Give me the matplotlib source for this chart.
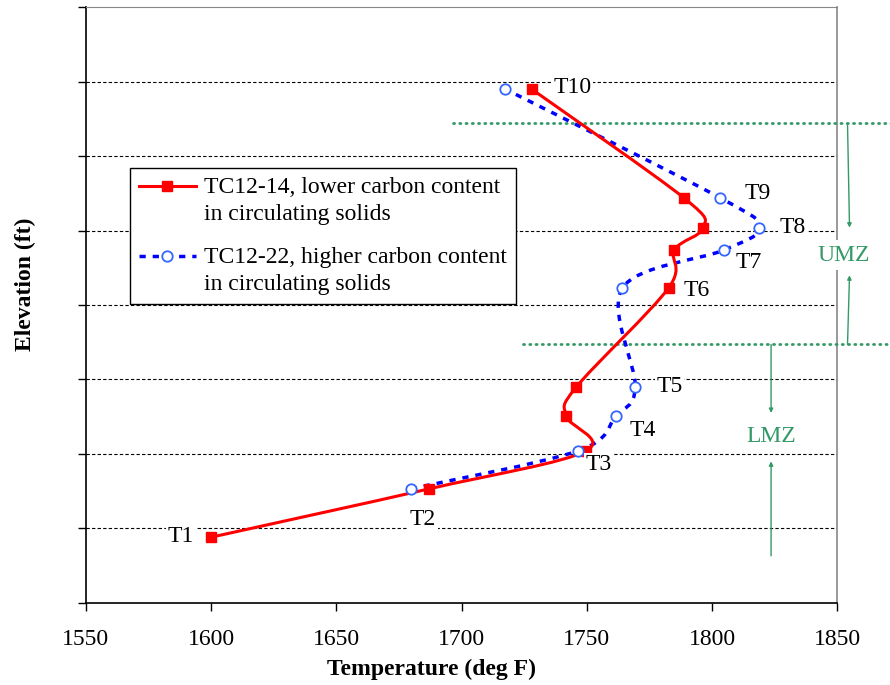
import matplotlib.pyplot as plt
import numpy as np
from matplotlib.path import Path
from matplotlib.patches import PathPatch
from matplotlib.lines import Line2D
from matplotlib.legend_handler import HandlerLine2D

plt.rcParams['font.family'] = ['Liberation Serif', 'DejaVu Serif']

# TC12-14 (lower carbon), thermocouples T1..T10
red_temp = [1600, 1687, 1749.6, 1741.7, 1745.8, 1782.6, 1784.9, 1796.5, 1788.7, 1728]
red_elev = [0.88, 1.53, 2.04, 2.51, 2.90, 4.23, 4.74, 5.04, 5.44, 6.90]

# TC12-22 (higher carbon), T2..T10
blue_temp = [1679.7, 1746.4, 1761.6, 1769.3, 1764.2, 1804.8, 1818.8, 1803.2, 1717.5]
blue_elev = [1.53, 2.04, 2.51, 2.90, 4.23, 4.74, 5.04, 5.44, 6.90]

labels = ['T1', 'T2', 'T3', 'T4', 'T5', 'T6', 'T7', 'T8', 'T9', 'T10']

# zone boundaries (elevation)
umz_top, lmz_top = 6.44, 3.47

FS = 17


def smooth_path(ax, xs, ys):
    # Excel-like smoothed line: Catmull-Rom rendered as cubic Bezier
    pts = ax.transData.transform(np.column_stack([xs, ys]))
    n = len(pts)
    verts = [pts[0]]
    codes = [Path.MOVETO]
    for i in range(n - 1):
        p0 = pts[max(i - 1, 0)]
        p1 = pts[i]
        p2 = pts[i + 1]
        p3 = pts[min(i + 2, n - 1)]
        c1 = p1 + (p2 - p0) / 6.0
        c2 = p2 - (p3 - p1) / 6.0
        verts += [c1, c2, p2]
        codes += [Path.CURVE4] * 3
    verts = ax.transData.inverted().transform(np.array(verts))
    return Path(verts, codes)


class FirstLineHandler(HandlerLine2D):
    # put the legend handle on the first line of a two-line label
    def create_artists(self, legend, orig_handle, xdescent, ydescent,
                       width, height, fontsize, trans):
        arts = super().create_artists(legend, orig_handle, xdescent, ydescent,
                                      width, height, fontsize, trans)
        for a in arts:
            a.set_ydata(np.asarray(a.get_ydata()) + 0.62 * fontsize)
        return arts


fig = plt.figure(figsize=(8.9, 6.85), dpi=100)
ax = fig.add_axes([0.0963, 0.1201, 0.8447, 0.8692])
ax.set_xlim(1550, 1850)
ax.set_ylim(0, 8)
ax.set_xticks(np.arange(1550, 1851, 50))
ax.set_yticks(np.arange(0, 9, 1))
ax.set_yticklabels([])
ax.tick_params(axis='both', direction='out', length=6, width=1, labelsize=FS, pad=13)
for yv in range(1, 8):
    ax.axhline(yv, color='black', lw=0.8, linestyle=(0, (3, 2)), zorder=1)

ax.spines['top'].set_color('#888888')
ax.spines['top'].set_linestyle((0, (2, 1)))
ax.spines['right'].set_color('#888888')
ax.spines['right'].set_linewidth(1.2)
ax.spines['left'].set_linewidth(1.2)
ax.spines['bottom'].set_linewidth(1.2)
ax.spines['right'].set_zorder(1)

fig.canvas.draw()

red_patch = PathPatch(smooth_path(ax, red_temp, red_elev), fill=False,
                      edgecolor='red', lw=2.2, zorder=4)
ax.add_patch(red_patch)
blue_patch = PathPatch(smooth_path(ax, blue_temp, blue_elev), fill=False,
                       edgecolor='blue', lw=2.5, linestyle=(0, (1.8, 2.0)), zorder=3)
ax.add_patch(blue_patch)
ax.plot(red_temp, red_elev, linestyle='none', marker='s', ms=6.5,
        color='red', zorder=5)
ax.plot(blue_temp, blue_elev, linestyle='none', marker='o', ms=7.5,
        mfc='white', mec='#3366FF', mew=1.3, zorder=5)

# thermocouple labels: anchor series/index and offset in pixels
anchors = [('r', 0), ('r', 1), ('r', 2), ('b', 2), ('b', 3),
           ('r', 5), ('b', 5), ('b', 6), ('b', 7), ('r', 9)]
offsets = [(-30, 1), (-6, -31), (13, -14), (27, -15), (34, 0),
           (28, -3), (24, -13), (33, 0), (37, 4), (41, 2)]
for lab, (s, k), off in zip(labels, anchors, offsets):
    if s == 'r':
        xy = (red_temp[k], red_elev[k])
    else:
        xy = (blue_temp[k], blue_elev[k])
    ax.annotate(lab, xy=xy, xytext=off, textcoords='offset pixels',
                ha='center', va='center', fontsize=FS, zorder=6,
                bbox=dict(fc='white', ec='none', pad=1.0))

# zone lines and arrows
green = '#339966'
dots = dict(color=green, lw=2.0, linestyle=(0, (0.4, 1.85)),
            dash_capstyle='round', clip_on=False, zorder=2)
ax.plot([1696.6, 1872], [umz_top, umz_top], **dots)
ax.plot([1724.6, 1872], [lmz_top, lmz_top], **dots)

arrow = dict(arrowstyle='-|>', color=green, lw=1.0, mutation_scale=6, shrinkA=0, shrinkB=0)
ax.annotate('', xy=(1854.8, 5.04), xytext=(1854.0, umz_top), arrowprops=arrow, annotation_clip=False)
ax.annotate('', xy=(1854.8, 4.40), xytext=(1854.0, lmz_top), arrowprops=arrow, annotation_clip=False)
ax.annotate('', xy=(1823.5, 2.55), xytext=(1823.5, lmz_top), arrowprops=arrow, annotation_clip=False)
ax.annotate('', xy=(1823.5, 1.90), xytext=(1823.5, 0.63), arrowprops=arrow, annotation_clip=False)
ax.text(1852.3, 4.67, 'UMZ', color=green, fontsize=FS, ha='center', va='center',
        zorder=6, clip_on=False, bbox=dict(fc='white', ec='none', pad=3))
ax.text(1823.5, 2.24, 'LMZ', color=green, fontsize=FS, ha='center', va='center',
        zorder=6, bbox=dict(fc='white', ec='none', pad=3))

handles = [Line2D([], [], color='red', lw=2.2, marker='s', ms=6.5),
           Line2D([], [], color='blue', lw=2.5, linestyle=(0, (1.8, 2.0)), marker='o',
                  ms=7.5, mfc='white', mec='#3366FF', mew=1.3)]
leg = ax.legend(handles,
                ['TC12-14, lower carbon content\nin circulating solids',
                 'TC12-22, higher carbon content\nin circulating solids'],
                loc='upper left', bbox_to_anchor=(0.059, 0.730), fontsize=FS,
                frameon=True, fancybox=False, edgecolor='black', framealpha=1,
                handlelength=2.4, handletextpad=0.35, borderpad=0.38,
                labelspacing=0.95, borderaxespad=0,
                handler_map={Line2D: FirstLineHandler()})
leg.get_frame().set_linewidth(1.0)
leg.set_zorder(7)
for t in leg.get_texts():
    t.set_linespacing(1.35)

ax.set_xlabel('Temperature (deg F)', fontsize=FS, fontweight='bold')
ax.xaxis.set_label_coords(0.4595, -0.095)
ax.set_ylabel('Elevation (ft)', fontsize=FS, fontweight='bold')
ax.yaxis.set_label_coords(-0.066, 0.534)

fig.savefig('out.png', dpi=100)
